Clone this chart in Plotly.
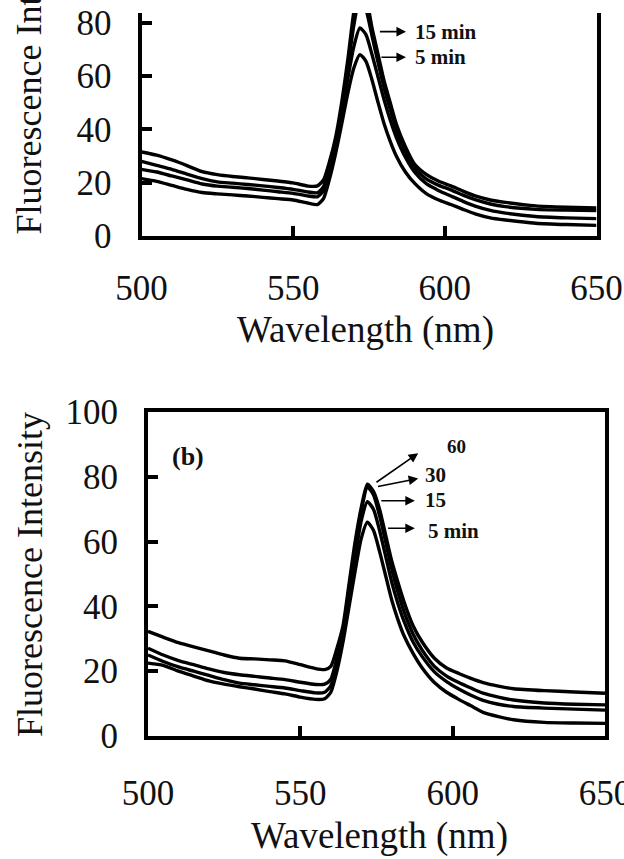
import plotly.graph_objects as go

W, H = 624, 859

wavelength = [500, 505, 510, 515, 520, 525, 530, 535, 540, 545, 550, 555, 558, 560,
              562, 564, 566, 568, 570, 572, 574, 576, 578, 580, 582, 584, 587, 590,
              594, 598, 602, 606, 610, 615, 620, 630, 640, 650]

# panel (a) - top
a_60 = [31.5, 30.3, 28.5, 26.4, 24.1, 23, 22.3, 21.8, 21.2, 20.6, 19.9, 18.7, 18.8, 21,
        28, 37, 50, 66, 84, 95, 90, 78, 68, 58, 50, 42, 33.5, 27,
        23, 20.5, 18.8, 16.8, 15, 13.5, 12.6, 11.3, 10.8, 10.5]
a_30 = [28, 26.5, 25, 23.2, 21.5, 20.3, 19.8, 19.3, 18.8, 18.2, 17.5, 16.5, 16.2, 18.5,
        26, 35.5, 48, 63, 79, 89.5, 85, 75, 65, 55.5, 47.5, 40, 31.5, 25.5,
        21.3, 19, 17.3, 15.3, 13.6, 12, 11, 10, 9.7, 9.5]
a_15 = [25, 24, 22.5, 21, 19.5, 18.7, 18.3, 17.8, 17.2, 16.6, 16, 15, 14.7, 17,
        24.5, 34, 46, 59, 71, 78, 75.5, 68, 59.5, 51, 43.5, 37, 29.5, 24,
        19.5, 17, 15, 13, 11.2, 9.6, 8.6, 7.3, 6.8, 6.5]
a_5 = [21.5, 20.5, 19, 17.5, 16.3, 15.8, 15.4, 15, 14.5, 14, 13.5, 12.3, 11.8, 14,
       21.5, 31, 42, 53.5, 63, 68, 65.5, 58.5, 50, 42, 35.5, 30, 24, 19.8,
       15.8, 13.5, 11.8, 10, 8.3, 6.8, 6, 4.8, 4.3, 4]

# panel (b) - bottom
b_60 = [32.3, 30.5, 28.8, 27.5, 26.3, 25, 24, 23.8, 23.5, 23.2, 22, 20.8, 20.5, 21.5,
        27, 34, 47, 60, 70.5, 77.7, 75.5, 70, 62, 54, 47.5, 41.5, 34, 29,
        24, 21, 19.3, 17.8, 16.5, 15.4, 14.6, 14, 13.6, 13.2]
b_30 = [27.1, 25, 23.3, 22, 20.7, 19.6, 18.9, 18.4, 17.9, 17.4, 16.6, 15.9, 16, 17.5,
        24, 32.5, 45.5, 58.5, 69.5, 76.8, 74.5, 68, 60, 51.5, 44.5, 38.5, 31.5, 26.5,
        21.5, 18.5, 16.5, 14.8, 13.2, 12, 11.1, 10.2, 9.8, 9.6]
b_15 = [25, 23, 21.3, 20, 18.7, 17.4, 16.3, 15.8, 15.3, 14.8, 14, 13.3, 13.5, 15.5,
        22, 31, 43, 55.5, 66.5, 72.3, 70, 63.5, 55.5, 47.5, 41, 35.5, 29, 24.5,
        19.8, 16.8, 14.5, 12.6, 11, 9.8, 9.1, 8.6, 8.3, 8]
b_5 = [22.5, 21.8, 20, 18.5, 17, 16, 15.2, 14.5, 13.7, 13, 12, 11.3, 11.5, 13.5,
       20, 29, 40, 51, 61, 66, 63.5, 57, 49.5, 42, 36, 31, 25.5, 21,
       16.5, 13.5, 11.3, 9.3, 7.3, 6, 5, 4.2, 4, 3.9]

x_ticks = [500, 550, 600, 650]
y_ticks_a = [0, 20, 40, 60, 80]
y_ticks_b = [0, 20, 40, 60, 80, 100]
x_title = "Wavelength (nm)"
y_title_a = "Fluorescence Int"
y_title_b = "Fluorescence Intensity"
labels_a = ["15 min", "5 min"]
labels_b = ["60", "30", "15", "5 min"]

SERIF = "Liberation Serif, Times New Roman, serif"
INK = "#111111"

fig = go.Figure()
for ys in (a_60, a_30, a_15, a_5):
    fig.add_trace(go.Scatter(x=wavelength, y=ys, mode="lines", xaxis="x", yaxis="y",
                             line=dict(color="black", width=3.4, shape="spline", smoothing=0.6),
                             showlegend=False, hoverinfo="skip"))
for ys in (b_60, b_30, b_15, b_5):
    fig.add_trace(go.Scatter(x=wavelength, y=ys, mode="lines", xaxis="x2", yaxis="y2",
                             line=dict(color="black", width=3.4, shape="spline", smoothing=0.6),
                             showlegend=False, hoverinfo="skip"))


def px_x(p):
    return p / W


def px_y(p):
    return (H - p) / H


axis_common = dict(showline=True, linecolor="black", linewidth=4, ticks="inside",
                   ticklen=10, tickwidth=4, tickcolor="black", showgrid=False,
                   zeroline=False, automargin=False, ticklabeloverflow="allow",
                   tickfont=dict(family=SERIF, size=35, color=INK))

fig.update_layout(
    template="none",
    width=W, height=H, margin=dict(l=0, r=0, t=0, b=0, autoexpand=False),
    paper_bgcolor="white", plot_bgcolor="white",
    xaxis=dict(domain=[px_x(141.5), px_x(596.5)], range=[500, 650], tickvals=x_ticks,
               mirror=False, anchor="y", ticklabelstandoff=18, **axis_common),
    yaxis=dict(domain=[px_y(236), px_y(13)], range=[0, 83.6], tickvals=y_ticks_a,
               mirror=True, anchor="x", ticklabelstandoff=19, **axis_common),
    xaxis2=dict(domain=[px_x(148), px_x(605)], range=[500, 650], tickvals=x_ticks,
                mirror=True, anchor="y2", ticklabelstandoff=23, **axis_common),
    yaxis2=dict(domain=[px_y(736), px_y(412)], range=[0, 100], tickvals=y_ticks_b,
                mirror=True, anchor="x2", ticklabelstandoff=19, **axis_common),
)

ann = []
# axis titles
ann.append(dict(text=x_title, xref="paper", yref="paper", x=px_x(365), y=px_y(330),
                showarrow=False, font=dict(family=SERIF, size=37, color=INK),
                xanchor="center", yanchor="middle"))
ann.append(dict(text=x_title, xref="paper", yref="paper", x=px_x(380), y=px_y(836),
                showarrow=False, font=dict(family=SERIF, size=37, color=INK),
                xanchor="center", yanchor="middle"))
ann.append(dict(text=y_title_a, xref="paper", yref="paper", x=px_x(28), y=px_y(237),
                showarrow=False, textangle=-90, font=dict(family=SERIF, size=36, color=INK),
                xanchor="center", yanchor="bottom"))
ann.append(dict(text=y_title_b, xref="paper", yref="paper", x=px_x(30), y=px_y(575),
                showarrow=False, textangle=-90, font=dict(family=SERIF, size=36, color=INK),
                xanchor="center", yanchor="middle"))

lab_font = dict(family=SERIF, size=21, color=INK)
arrow_style = dict(showarrow=True, arrowhead=2, arrowsize=1.2, arrowwidth=1.6,
                   arrowcolor="black", text="")

# panel (a) arrows: tail near peak -> head near label
for (tx, ty, hx, hy) in [(578.1, 76.6, 587.2, 76.6), (578.6, 67.0, 587.2, 67.0)]:
    ann.append(dict(x=hx, y=hy, ax=tx, ay=ty, xref="x", yref="y", axref="x", ayref="y",
                    **arrow_style))
for lab, ly in zip(labels_a, [76.5, 67.0]):
    ann.append(dict(text="<b>%s</b>" % lab, x=589.5, y=ly, xref="x", yref="y",
                    showarrow=False, xanchor="left", yanchor="middle", font=lab_font))

# panel (b)
arrows_b = [(574.5, 78.0, 588.7, 87.3), (575.0, 76.9, 588.7, 79.5),
            (576.1, 72.6, 587.6, 72.6), (578.3, 64.1, 587.6, 64.1)]
for (tx, ty, hx, hy) in arrows_b:
    ann.append(dict(x=hx, y=hy, ax=tx, ay=ty, xref="x2", yref="y2", axref="x2", ayref="y2",
                    **arrow_style))
pos_b = [(597.5, 89.3, 19), (590.1, 80.6, 21), (590.1, 72.8, 21), (591.2, 63.4, 21)]
for lab, (lx, ly, fs) in zip(labels_b, pos_b):
    ann.append(dict(text="<b>%s</b>" % lab, x=lx, y=ly, xref="x2", yref="y2",
                    showarrow=False, xanchor="left", yanchor="middle",
                    font=dict(family=SERIF, size=fs, color=INK)))
ann.append(dict(text="<b>(b)</b>", x=px_x(188), y=px_y(456), xref="paper", yref="paper",
                showarrow=False, xanchor="center", yanchor="middle",
                font=dict(family=SERIF, size=26, color=INK)))

fig.update_layout(annotations=ann)
fig.write_html("out.html", config={"displayModeBar": False},
               post_script="document.body.style.margin='0px';")
